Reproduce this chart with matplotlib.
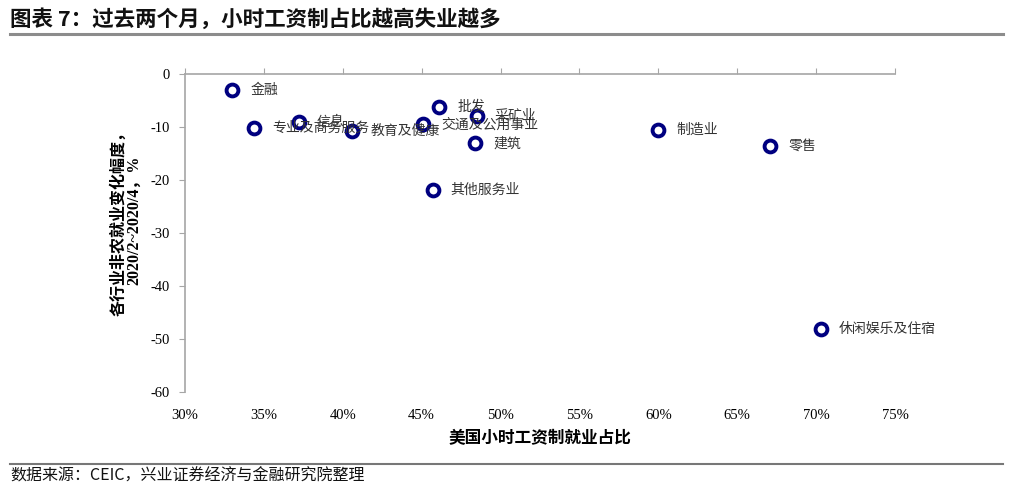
import matplotlib
matplotlib.use("Agg")
import matplotlib.pyplot as plt
from matplotlib.lines import Line2D

# Data
industries = ["金融", "专业及商务服务", "信息", "教育及健康", "交通及公用事业", "批发",
              "采矿业", "建筑", "其他服务业", "制造业", "零售", "休闲娱乐及住宿"]
hourly_share = [33.0, 34.4, 37.2, 40.6, 45.1, 46.1, 48.5, 48.4, 45.7, 60.0, 67.1, 70.3]
emp_change = [-3.0, -10.2, -9.1, -10.8, -9.5, -6.2, -7.9, -13.1, -21.9, -10.6, -13.6, -48.2]
x_ticks = [30, 35, 40, 45, 50, 55, 60, 65, 70, 75]
y_ticks = [0, -10, -20, -30, -40, -50, -60]

title = "图表 7：过去两个月，小时工资制占比越高失业越多"
source = "数据来源：CEIC，兴业证券经济与金融研究院整理"
xlabel = "美国小时工资制就业占比"
ylabel1 = "各行业非农就业变化幅度，"
ylabel2 = "2020/2~2020/4，%"

CJK = ["Noto Sans CJK SC", "DejaVu Sans"]
SERIF = ["Liberation Serif", "Noto Sans CJK SC"]

fig = plt.figure(figsize=(10.15, 4.94), dpi=100)
ax = fig.add_axes([185 / 1015, 1 - 392 / 494, 710 / 1015, 318 / 494])

ax.plot(hourly_share, emp_change, linestyle="none", marker="o", markersize=8.5,
        markerfacecolor="white", markeredgecolor="#000080", markeredgewidth=2.8, zorder=3)
for name, x, y in zip(industries, hourly_share, emp_change):
    ax.annotate(name, (x, y), xytext=(13, 0), textcoords="offset points",
                ha="left", va="center", fontsize=10, color="#333333", family=CJK, zorder=4)

ax.set_xlim(30, 75)
ax.set_ylim(-60, 0)
ax.set_xticks(x_ticks)
ax.set_xticklabels([f"{v}%" for v in x_ticks], family=SERIF, fontsize=10.5)
ax.set_yticks(y_ticks)
ax.set_yticklabels([str(v) for v in y_ticks], family=SERIF, fontsize=10.5)

for s in ["right", "bottom"]:
    ax.spines[s].set_visible(False)
for s in ["top", "left"]:
    ax.spines[s].set_color("#a6a6a6")
    ax.spines[s].set_linewidth(1.2)
ax.tick_params(axis="x", top=True, bottom=False, labeltop=False, labelbottom=True,
               direction="out", length=4, color="#a6a6a6", pad=8)
ax.tick_params(axis="y", direction="out", length=4, color="#a6a6a6", pad=7)

ax.set_xlabel(xlabel, family=CJK, fontsize=12, fontweight="bold", labelpad=5)

fig.text(118 / 1015, 1 - 220 / 494, ylabel1, rotation=90, ha="center", va="center",
         family=CJK, fontsize=11.5, fontweight="bold")
fig.text(134 / 1015, 1 - 220 / 494, ylabel2, rotation=90, ha="center", va="center",
         family=SERIF, fontsize=11.5, fontweight="bold")

fig.text(10 / 1015, 1 - 19 / 494, title, ha="left", va="center", family=CJK,
         fontsize=15.5, fontweight="bold", color="#111111")
fig.add_artist(Line2D([10 / 1015, 1003 / 1015], [1 - 34 / 494] * 2, color="#8c8c8c",
                      linewidth=2.2, transform=fig.transFigure))
fig.add_artist(Line2D([10 / 1015, 1003 / 1015], [1 - 464 / 494] * 2, color="#777777",
                      linewidth=1.5, transform=fig.transFigure))
fig.text(10 / 1015, 1 - 476 / 494, source, ha="left", va="center", family=CJK,
         fontsize=11.5, color="#111111")

fig.savefig("out.png", dpi=100)
